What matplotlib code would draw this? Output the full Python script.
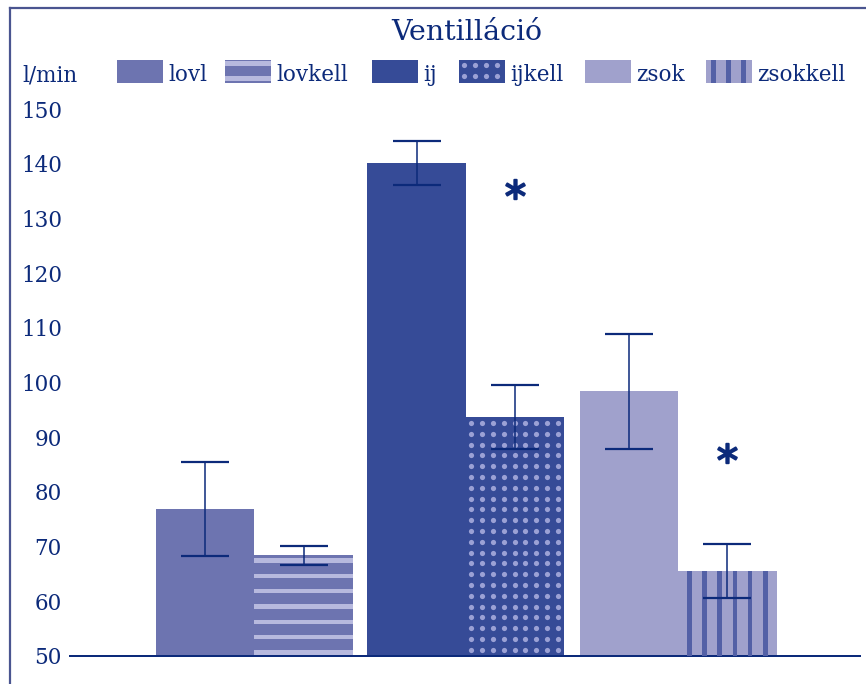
"""
Ventilláció: grouped bars with error bars, patterned 'kell' bars and significance stars.
"""
import numpy as np
import matplotlib
matplotlib.use("Agg")
import matplotlib.pyplot as plt
from matplotlib.patches import Rectangle
from matplotlib.lines import Line2D

# --- data (l/min) ---
labels = ["lovl", "lovkell", "ij", "ijkell", "zsok", "zsokkell"]
means = [76.9, 68.4, 140.1, 93.7, 98.4, 65.5]
errs = [8.6, 1.8, 4.0, 5.9, 10.5, 4.9]
star_bars = [3, 5]          # bars that carry a "*"
star_y = [135.4, 87.1]      # height of the star centre
yticks = [50, 60, 70, 80, 90, 100, 110, 120, 130, 140, 150]
title = "Ventilláció"
unit = "l/min"

# --- style ---
NAVY = "#0c2a7a"
FRAME = "#4a5590"
C_LOV = "#6d74b0"
C_IJ = "#364b97"
C_ZSOK = "#a0a1cc"
C_STRIPE_LIGHT = "#b7b9de"
C_DOT = "#9ba1d5"
C_STRIPE_DARK = "#5360a6"
FONT = "DejaVu Serif"

W, H = 866, 684
PX = 1 / 100 * 72  # points per pixel

# bar fill / texture per bar: (face, texture, texture colour)
styles = [
    (C_LOV, None, None),
    (C_LOV, "hstripe", C_STRIPE_LIGHT),
    (C_IJ, None, None),
    (C_IJ, "dots", C_DOT),
    (C_ZSOK, None, None),
    (C_ZSOK, "vstripe", C_STRIPE_DARK),
]


def draw_texture(ax, kind, color, x0, x1, y0, y1, sx, sy, off):
    """Texture inside a box; sx, sy are pixels per data unit, off = (dx, dy) px."""
    if kind == "hstripe":
        step, thick = 15.3, 4.5
        y = y1 - (off[1] + thick / 2) / sy
        while y - thick / 2 / sy > y0:
            ax.add_patch(Rectangle((x0, y - thick / 2 / sy), x1 - x0, thick / sy,
                                   facecolor=color, lw=0, zorder=3))
            y -= step / sy
    elif kind == "vstripe":
        step, thick = 15.2, 4.5
        x = x0 + (off[0] + thick / 2) / sx
        while x + thick / 2 / sx < x1:
            ax.add_patch(Rectangle((x - thick / 2 / sx, y0), thick / sx, y1 - y0,
                                   facecolor=color, lw=0, zorder=3))
            x += step / sx
    elif kind == "dots":
        stepx, stepy = 10.9, 10.8
        xs = np.arange(x0 + off[0] / sx, x1 - 2 / sx, stepx / sx)
        ys = np.arange(y1 - off[1] / sy, y0 + 2 / sy, -stepy / sy)
        gx, gy = np.meshgrid(xs, ys)
        ax.scatter(gx.ravel(), gy.ravel(), s=(5.2 * PX) ** 2, color=color,
                   lw=0, zorder=3)


fig = plt.figure(figsize=(W / 100, H / 100), dpi=100)

# main axes: x 70..860 px, y 656 (=50) .. 109 (=150)
ax = fig.add_axes([70 / W, (H - 656) / H, 790 / W, 547 / H])
sx = 98.5
sy = 547 / 100
ax.set_xlim(0, 790 / sx)
ax.set_ylim(50, 150)

centres = np.array([1.873, 4.02, 6.173])
lefts = np.ravel([[c - 1.0, c] for c in centres])
base = yticks[0]

for i, (lab, m, e) in enumerate(zip(labels, means, errs)):
    face, tex, tcol = styles[i]
    x0 = lefts[i]
    ax.add_patch(Rectangle((x0, base), 1.0, m - base, facecolor=face, lw=0, zorder=2))
    if tex:
        off = {"hstripe": (0, 3), "vstripe": (9, 0), "dots": (5, 6)}[tex]
        draw_texture(ax, tex, tcol, x0, x0 + 1.0, base, m, sx, sy, off)
    ax.errorbar(x0 + 0.5, m, yerr=e, color=NAVY, lw=1.1, capsize=17,
                capthick=1.6, zorder=5)

for b, y in zip(star_bars, star_y):
    ax.plot(lefts[b] + 0.5, y, marker="$*$", ms=14, color=NAVY, mew=1.4,
            zorder=6, clip_on=False)

for s in ["top", "right", "left"]:
    ax.spines[s].set_visible(False)
ax.spines["bottom"].set_color(NAVY)
ax.spines["bottom"].set_linewidth(2 * PX)
ax.set_xticks([])
ax.set_yticks(yticks)
ax.set_yticklabels([str(t) for t in yticks], fontfamily=FONT, fontsize=15.5,
                   color=NAVY)
ax.tick_params(axis="y", length=0, pad=8 * PX)

# title and unit
fig.text(467 / W, 1 - 33 / H, title, ha="center", va="center",
         fontfamily=FONT, fontsize=20.5, color=NAVY)
fig.text(22 / W, 1 - 81 / H, unit, ha="left", va="baseline",
         fontfamily=FONT, fontsize=15.5, color=NAVY)

# legend swatches (own small axes, pixel units)
sw_left = [117, 225, 372, 459, 585, 706]
sw_off = {"hstripe": (0, 1), "vstripe": (5, 0), "dots": (5, 5)}
for i, lab in enumerate(labels):
    face, tex, tcol = styles[i]
    x = sw_left[i]
    la = fig.add_axes([x / W, (H - 83) / H, 46 / W, 23 / H])
    la.set_xlim(0, 46)
    la.set_ylim(0, 23)
    la.axis("off")
    la.add_patch(Rectangle((0, 0), 46, 23, facecolor=face, lw=0, zorder=2))
    if tex:
        draw_texture(la, tex, tcol, 0, 46, 0, 23, 1, 1, sw_off[tex])
    fig.text((x + 51) / W, 1 - 81 / H, lab, ha="left", va="baseline",
             fontfamily=FONT, fontsize=15.5, color=NAVY)

# outer frame (left and top edges)
fig.add_artist(Line2D([10 / W, 10 / W], [0, 1 - 8 / H], transform=fig.transFigure,
                      color=FRAME, lw=1.6))
fig.add_artist(Line2D([10 / W, 1], [1 - 8 / H, 1 - 8 / H], transform=fig.transFigure,
                      color=FRAME, lw=1.6))

fig.savefig("out.png", dpi=100)
